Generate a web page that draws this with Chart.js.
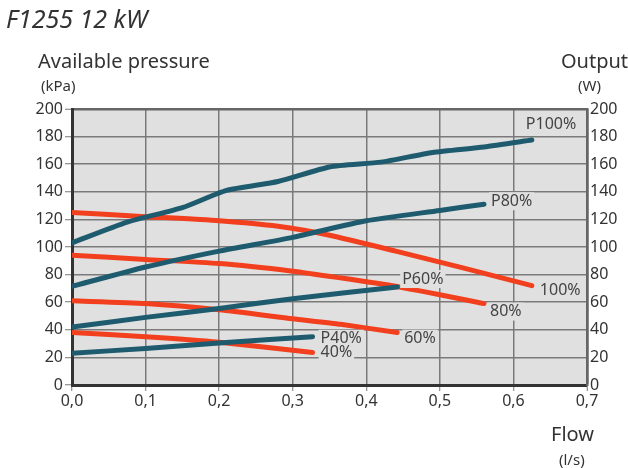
<!DOCTYPE html>
<html>
<head>
<meta charset="utf-8">
<script src="https://cdn.jsdelivr.net/npm/chart.js@4"></script>
<style>
  html, body { margin: 0; padding: 0; background: #fff; }
  #wrap { width: 628px; height: 468px; }
</style>
</head>
<body>
<div id="wrap"><canvas id="chart" width="628" height="468"></canvas></div>
<script>
// --- Data (flow in l/s, pressure in kPa, output in W) ---
const flowP100 = [0, 0.075, 0.15, 0.21, 0.28, 0.35, 0.42, 0.49, 0.56, 0.625];
const outP100  = [103, 118, 128.5, 141, 147.5, 158, 161.5, 168.5, 172.5, 177.5];
const flowP80  = [0, 0.1, 0.2, 0.3, 0.4, 0.5, 0.56];
const outP80   = [71.5, 85.5, 97, 107, 119, 126.5, 131];
const flowP60  = [0, 0.1, 0.2, 0.3, 0.442];
const outP60   = [42, 49, 55.5, 62.5, 71];
const flowP40  = [0, 0.1, 0.2, 0.327];
const outP40   = [23, 26.5, 30.5, 35];

const flow100  = [0, 0.1, 0.2, 0.28, 0.35, 0.44, 0.53, 0.625];
const press100 = [125, 122, 119, 115, 108.5, 97, 85, 72];
const flow80   = [0, 0.1, 0.2, 0.3, 0.36, 0.44, 0.56];
const press80  = [94, 91, 88, 82.5, 78, 71.5, 59];
const flow60   = [0, 0.1, 0.2, 0.3, 0.365, 0.442];
const press60  = [61, 59, 54.5, 48, 44, 38];
const flow40   = [0, 0.1, 0.2, 0.327];
const press40  = [38, 35, 31, 23.5];

const seriesLabels = ["P100%", "P80%", "P60%", "P40%", "100%", "80%", "60%", "40%"];
const flowTicks = [0, 0.1, 0.2, 0.3, 0.4, 0.5, 0.6, 0.7];

const TEAL = "#1f5b6f";
const RED = "#f2401f";
const PLOT_BG = "#e0e0e0";
const FONT = "'Noto Sans', 'DejaVu Sans', sans-serif";

function pts(xs, ys) {
    return xs.map((x, i) => ({ x: x, y: ys[i] }));
}

// label offsets from each curve's last point (px)
const labelOffsets = {
    "P100%": [-6, -16], "P80%": [7, -3], "P60%": [5, -8], "P40%": [8, 2],
    "100%": [8, 5], "80%": [6, 8], "60%": [7, 6], "40%": [8, 0]
};

function line(label, xs, ys, color, yAxis) {
    return {
        label: label,
        data: pts(xs, ys),
        borderColor: color,
        backgroundColor: color,
        borderWidth: 5,
        borderCapStyle: "round",
        borderJoinStyle: "round",
        pointRadius: 0,
        showLine: true,
        tension: 0.2,
        yAxisID: yAxis
    };
}

// --- Plugin: plot background, titles, curve labels ---
const decor = {
    id: "decor",
    beforeDraw(chart) {
        const { ctx, chartArea: a } = chart;
        ctx.save();
        ctx.fillStyle = PLOT_BG;
        ctx.fillRect(a.left, a.top, a.right - a.left, a.bottom - a.top);
        ctx.restore();
    },
    afterDraw(chart) {
        const ctx = chart.ctx;
        ctx.save();
        ctx.fillStyle = "#333";
        ctx.textBaseline = "alphabetic";
        ctx.textAlign = "left";
        ctx.font = "italic 25px " + FONT;
        ctx.fillText("F1255 12 kW", 6, 28);
        ctx.font = "20px " + FONT;
        ctx.fillText("Available pressure", 38, 68);
        ctx.fillText("Output", 561, 68);
        ctx.fillText("Flow", 551, 441);
        ctx.font = "15px " + FONT;
        ctx.fillText("(kPa)", 41, 91);
        ctx.fillText("(W)", 578, 91);
        ctx.fillText("(l/s)", 559, 465);

        // curve labels
        ctx.font = "16px " + FONT;
        ctx.textBaseline = "middle";
        const xs = chart.scales.x, ys = chart.scales.y;
        chart.data.datasets.forEach((ds) => {
            const last = ds.data[ds.data.length - 1];
            const off = labelOffsets[ds.label];
            const px = xs.getPixelForValue(last.x) + off[0];
            const py = ys.getPixelForValue(last.y) + off[1];
            const w = ctx.measureText(ds.label).width;
            ctx.fillStyle = PLOT_BG;
            ctx.fillRect(px - 2, py - 9, w + 4, 18);
            ctx.fillStyle = "#444";
            ctx.fillText(ds.label, px, py);
        });
        ctx.restore();
    }
};

new Chart(document.getElementById("chart"), {
    type: "scatter",
    data: {
        datasets: [
            line(seriesLabels[0], flowP100, outP100, TEAL, "y2"),
            line(seriesLabels[1], flowP80, outP80, TEAL, "y2"),
            line(seriesLabels[2], flowP60, outP60, TEAL, "y2"),
            line(seriesLabels[3], flowP40, outP40, TEAL, "y2"),
            line(seriesLabels[4], flow100, press100, RED, "y"),
            line(seriesLabels[5], flow80, press80, RED, "y"),
            line(seriesLabels[6], flow60, press60, RED, "y"),
            line(seriesLabels[7], flow40, press40, RED, "y")
        ]
    },
    options: {
        responsive: false,
        animation: false,
        layout: { padding: { top: 109, left: 0, right: 0, bottom: 0 } },
        plugins: {
            legend: { display: false },
            tooltip: { enabled: false }
        },
        scales: {
            x: {
                type: "linear",
                min: 0,
                max: 0.7,
                afterFit(scale) { scale.height = 83; },
                afterBuildTicks(scale) { scale.ticks = flowTicks.map(v => ({ value: v })); },
                ticks: {
                    color: "#333",
                    font: { family: FONT, size: 16 },
                    padding: 1,
                    maxRotation: 0,
                    callback: (v) => Number(v).toFixed(1).replace(".", ",")
                },
                grid: {
                    color: (c) => c.tick && c.tick.value >= 0.7 ? "#666" : "#7a7a7a",
                    lineWidth: (c) => c.tick && c.tick.value >= 0.7 ? 2.5 : 1.5,
                    tickLength: 6,
                    tickColor: "#777",
                    tickWidth: 1
                },
                border: { color: "#333", width: 3 }
            },
            y: {
                position: "left",
                min: 0,
                max: 200,
                afterFit(scale) { scale.width = 72; },
                ticks: {
                    stepSize: 20,
                    color: "#333",
                    font: { family: FONT, size: 16 },
                    padding: 2
                },
                grid: {
                    color: (c) => c.tick && c.tick.value === 200 ? "#666" : "#7a7a7a",
                    lineWidth: (c) => c.tick && c.tick.value === 200 ? 2.5 : 1.5,
                    tickLength: 7,
                    tickColor: "#777",
                    tickWidth: 1
                },
                border: { color: "#333", width: 3 }
            },
            y2: {
                position: "right",
                min: 0,
                max: 200,
                afterFit(scale) { scale.width = 41; },
                ticks: {
                    stepSize: 20,
                    color: "#333",
                    font: { family: FONT, size: 16 },
                    padding: 3
                },
                grid: { display: false, drawTicks: false },
                border: { color: "#666", width: 2.5 }
            }
        }
    },
    plugins: [decor]
});
</script>
</body>
</html>
